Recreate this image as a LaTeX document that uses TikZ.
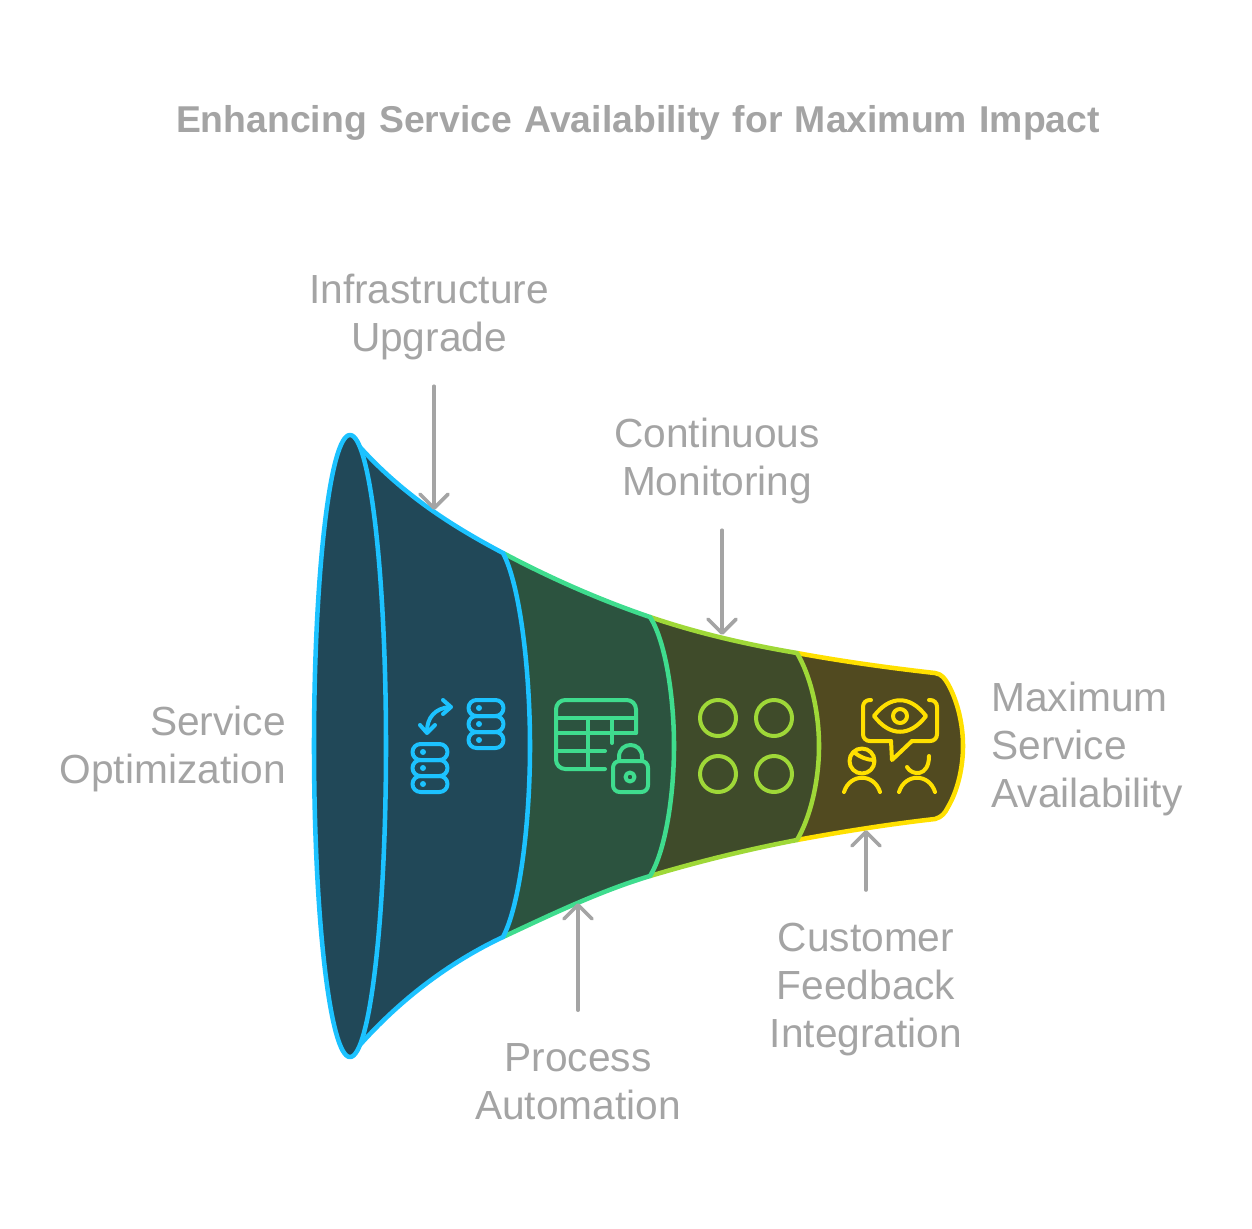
\documentclass[tikz,border=0pt]{standalone}
\usepackage{fontspec}
\setmainfont{Liberation Sans}
\usetikzlibrary{arrows.meta}

\definecolor{greytext}{HTML}{A4A4A4}
\definecolor{blueline}{HTML}{1CC2FF}
\definecolor{bluefill}{HTML}{214858}
\definecolor{greenline}{HTML}{3FDC8E}
\definecolor{greenfill}{HTML}{2C533F}
\definecolor{limeline}{HTML}{9FD838}
\definecolor{limefill}{HTML}{3F4B2A}
\definecolor{yellowline}{HTML}{FFE000}
\definecolor{yellowfill}{HTML}{514A20}

\tikzset{
    label/.style={text=greytext, font=\fontsize{30.5}{36}\selectfont, inner sep=0pt, align=center},
    flowarrow/.style={draw=greytext, line width=2.7pt, line cap=round, -{Straight Barb[length=10.5pt,width=21pt,round]}},
    band/.style={line width=3.4pt, line join=round},
    iconline/.style={line width=3pt, line cap=round, line join=round},
}

% one stack of three rounded discs
\newcommand{\dbstack}[2]{
    \foreach \dy in {0,16,32} {
        \draw[iconline, draw=blueline, rounded corners=6pt] (#1-17.5,#2+\dy-8) rectangle (#1+17.5,#2+\dy+8);
        \fill[blueline] (#1-7,#2+\dy) circle (3);
    }
}

\begin{document}
\begin{tikzpicture}[x=0.75pt, y=-0.75pt]
    \useasboundingbox (0,0) rectangle (1252,1228);

    \node[label, text width=1000*0.75pt, font=\fontsize{28}{34}\selectfont\bfseries] (title) at (638,123) {Enhancing Service Availability for Maximum Impact};

    % funnel, narrow end first
    \draw[band, draw=yellowline, fill=yellowfill]
        (797,653) .. controls (840,661) and (890,668) .. (935,673)
        .. controls (942,674) and (945,679) .. (948,684)
        .. controls (958,702) and (963,725) .. (963,746)
        .. controls (963,767) and (958,790) .. (948,807)
        .. controls (945,813) and (942,817) .. (935,819)
        .. controls (890,824) and (840,832) .. (797,840) -- cycle;
    \draw[band, draw=limeline, fill=limefill]
        (650,617) .. controls (700,634) and (750,645) .. (797,653)
        .. controls (810,675) and (819,710) .. (819,746)
        .. controls (819,782) and (810,818) .. (797,840)
        .. controls (750,849) and (700,861) .. (650,876) -- cycle;
    \draw[band, draw=greenline, fill=greenfill]
        (503,553) .. controls (550,578) and (600,600) .. (650,617)
        .. controls (665,640) and (674,695) .. (674,746)
        .. controls (674,797) and (665,852) .. (650,876)
        .. controls (600,891) and (550,915) .. (503,937) -- cycle;
    \draw[band, draw=blueline, fill=bluefill]
        (352,438) .. controls (398,492) and (450,525) .. (503,553)
        .. controls (520,585) and (530,670) .. (530,746)
        .. controls (530,822) and (520,905) .. (503,937)
        .. controls (450,962) and (398,1000) .. (352,1054) -- cycle;
    \draw[band, draw=blueline, fill=bluefill] (350,746) ellipse [x radius=36, y radius=311];

    % icon of the first band
    \dbstack{486}{708}
    \dbstack{430}{752}
    \draw[iconline, draw=blueline] (427,731) .. controls (427,718) and (435,708) .. (450,707);
    \draw[iconline, draw=blueline] (443,700) -- (451,707) -- (443,714);
    \draw[iconline, draw=blueline] (420,725) -- (427,733) -- (435,725);

    % icon of the second band
    \begin{scope}[iconline, draw=greenline]
        \draw[rounded corners=7pt] (605,769) -- (556,769) -- (556,700) -- (636,700) -- (636,733);
        \draw (556,718) -- (636,718);
        \draw (556,733) -- (636,733);
        \draw (556,751) -- (605,751);
        \draw (588,718) -- (588,769);
        \draw (612,718) -- (612,743);
        \draw[rounded corners=5pt] (613,761) rectangle (648,792);
        \draw (619,761) -- (619,757) .. controls (619,741) and (642,741) .. (642,757) -- (642,761);
        \draw (630,777) circle (4.5);
    \end{scope}

    % icon of the third band
    \foreach \cx in {718,774} {
        \foreach \cy in {718,774} {
            \draw[iconline, draw=limeline] (\cx,\cy) circle (18);
        }
    }

    % icon of the fourth band
    \begin{scope}[iconline, draw=yellowline]
        \draw[rounded corners=5pt] (871,700) -- (863,700) -- (863,741) -- (891,741);
        \draw (891,741) -- (892,760) -- (912,741);
        \draw[rounded corners=5pt] (912,741) -- (937,741) -- (937,700) -- (929,700);
        \draw (874,716) .. controls (890,695) and (910,695) .. (926,716) .. controls (910,737) and (890,737) .. (874,716) -- cycle;
        \draw (900,716) circle (7);
        \draw (862,761) circle (12.5);
        \draw (855,753) .. controls (860,757) and (867,760) .. (874,760);
        \draw (844,792) .. controls (850,773) and (874,773) .. (880,792);
        \draw (907,767) .. controls (912,776) and (929,777) .. (929,756);
        \draw (899,792) .. controls (905,773) and (929,773) .. (935,792);
    \end{scope}

    % labels
    \node[label] (infraupgrade) at (429,317) {Infrastructure\\Upgrade};
    \node[label] (monitoring) at (717,461) {Continuous\\Monitoring};
    \node[label, anchor=east, align=right] (optimization) at (286,749) {Service\\Optimization};
    \node[label, anchor=west, align=left] (availability) at (991,749) {Maximum\\Service\\Availability};
    \node[label] (automation) at (578,1082) {Process\\Automation};
    \node[label] (feedback) at (866,990) {Customer\\Feedback\\Integration};

    \coordinate (infratip) at (434,510);
    \coordinate (monitortip) at (722,635);
    \coordinate (automationtip) at (578,903);
    \coordinate (feedbacktip) at (866,830);

    \draw[flowarrow, shorten <=19.5pt] (infraupgrade.south -| infratip) -- (infratip);
    \draw[flowarrow, shorten <=19.5pt] (monitoring.south -| monitortip) -- (monitortip);
    \draw[flowarrow, shorten <=25pt] (automation.north -| automationtip) -- (automationtip);
    \draw[flowarrow, shorten <=25pt] (feedback.north -| feedbacktip) -- (feedbacktip);
\end{tikzpicture}
\end{document}
